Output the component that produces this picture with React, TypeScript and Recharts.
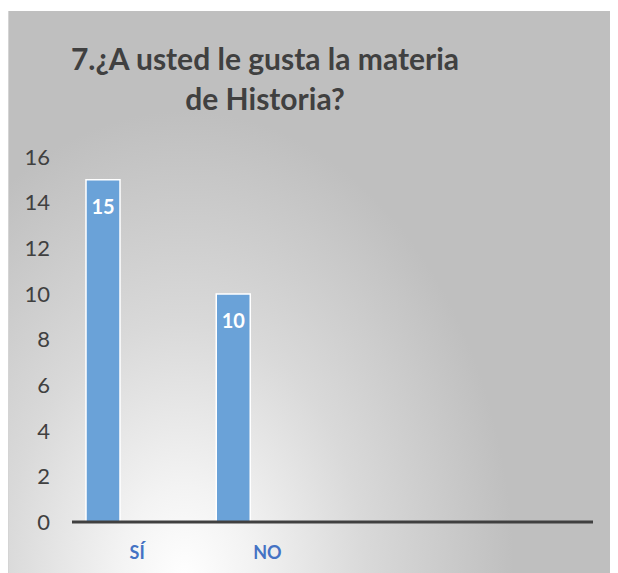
import { BarChart, Bar, XAxis, YAxis, LabelList } from 'recharts';

const categories = ['SÍ', 'NO', '', ''];
const serie1 = [15, 10, null, null];
const serie2 = [null, null, null, null];
const serie3 = [null, null, null, null];
const yTicks = [0, 2, 4, 6, 8, 10, 12, 14, 16];

const FONT = 'Lato, "Open Sans", sans-serif';

const data = categories.map((name, i) => ({
  name,
  s1: serie1[i],
  s2: serie2[i],
  s3: serie3[i],
}));

// the wrapper is shifted back by the body margin, so children use page coordinates
export default function App() {
  return (
    <div style={{ position: 'relative', left: -8, top: -8, width: 618, height: 573, fontFamily: FONT }}>
      <svg width={200} height={6} style={{ position: 'absolute', left: 0, top: 0 }}>
        <path d="M8.5 0 V2.5 H191.5 V0" fill="none" stroke="#000" strokeWidth={1.2} />
      </svg>
      <div
        style={{
          position: 'absolute',
          left: 8,
          top: 11,
          width: 609,
          height: 562,
          boxSizing: 'border-box',
          borderLeft: '1px solid #d4d4d4',
          background:
            'radial-gradient(ellipse 330px 470px at 175px 570px, #ffffff 0%, #f3f3f3 20%, #d9d9d9 55%, #bfbfbf 100%)',
        }}
      />
      <div
        style={{
          position: 'absolute',
          left: 65,
          top: 38,
          width: 400,
          textAlign: 'center',
          fontSize: 30,
          fontWeight: 700,
          lineHeight: '40px',
          color: '#404040',
        }}
      >
        7.¿A usted le gusta la materia
        <br />
        de Historia?
      </div>
      <div style={{ position: 'absolute', left: 8, top: 11 }}>
        <BarChart
          width={609}
          height={562}
          data={data}
          margin={{ top: 146, right: 24, bottom: 0, left: 0 }}
          barGap={0}
          barSize={34}
        >
          <XAxis
            dataKey="name"
            height={51}
            axisLine={{ stroke: '#404040', strokeWidth: 3 }}
            tickLine={false}
            tickMargin={18}
            tick={{ fill: '#4472c4', fontSize: 18, fontWeight: 700, fontFamily: FONT }}
          />
          <YAxis
            width={64}
            domain={[0, 16]}
            ticks={yTicks}
            axisLine={false}
            tickLine={false}
            tickMargin={16}
            tick={{ fill: '#404040', fontSize: 22, fontFamily: FONT }}
          />
          <Bar dataKey="s1" fill="#6aa2d8" stroke="#ffffff" strokeWidth={1.5} isAnimationActive={false}>
            <LabelList
              dataKey="s1"
              position="insideTop"
              offset={20}
              fill="#ffffff"
              fontSize={20}
              fontWeight={700}
              fontFamily={FONT}
            />
          </Bar>
          <Bar dataKey="s2" fill="#ed7d31" isAnimationActive={false} />
          <Bar dataKey="s3" fill="#a5a5a5" isAnimationActive={false} />
        </BarChart>
      </div>
    </div>
  );
}
